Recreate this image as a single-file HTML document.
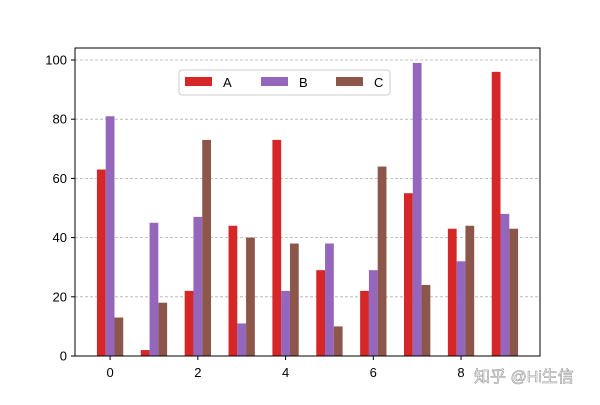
<!DOCTYPE html>
<html><head><meta charset="utf-8"><style>
body{margin:0;background:#fff;}
svg{font-family:"Liberation Sans","DejaVu Sans","Noto Sans CJK SC",sans-serif;}
</style></head><body>
<svg id="chart" width="600" height="400"></svg>
<script>
const categories=[0,1,2,3,4,5,6,7,8,9];
const seriesA=[63,2,22,44,73,29,22,55,43,96];
const seriesB=[81,45,47,11,22,38,29,99,32,48];
const seriesC=[13,18,73,40,38,10,64,24,44,43];
const yTicks=[0,20,40,60,80,100];
const xTicks=[0,2,4,6,8];
const seriesNames=['A','B','C'];
const colors=['#d62728','#9467bd','#8c564b'];
const L=75,R=540,T=48,B=356;
const xMin=-0.8,xMax=9.8,yMax=(B-60)/2.96*1;
function xs(v){return L+(v-xMin)/(xMax-xMin)*(R-L);}
function ys(v){return B-v*2.96;}
const svg=document.getElementById('chart');
const NS='http://www.w3.org/2000/svg';
function mk(t,a){const e=document.createElementNS(NS,t);for(const k in a)e.setAttribute(k,a[k]);svg.appendChild(e);return e;}
yTicks.forEach(v=>{
  if(v>0){const g=mk('line',{x1:L,x2:R,y1:ys(v),y2:ys(v),stroke:'#b0b0b0','stroke-dasharray':'3,2','stroke-width':0.8});
  
  }
  const t=mk('line',{x1:L-4,x2:L,y1:ys(v),y2:ys(v),stroke:'#000'});
  
  
  const l=mk('text',{x:L-8,y:ys(v)+4.5,'text-anchor':'end','font-size':13});
  l.textContent=v;
  
  
});
xTicks.forEach(v=>{
  const t=mk('line',{x1:xs(v),x2:xs(v),y1:B,y2:B+4,stroke:'#000'});
  
  
  const l=mk('text',{x:xs(v),y:B+21,'text-anchor':'middle','font-size':13});
  l.textContent=v;
  
  
});
const all=[seriesA,seriesB,seriesC];
const w=0.2;
all.forEach((s,si)=>{
  categories.forEach((c,i)=>{
    const x0=xs(c+(si-1)*w-w/2),x1=xs(c+(si-1)*w+w/2);
    const r=mk('rect',{x:x0,y:ys(s[i]),width:x1-x0,height:ys(0)-ys(s[i]),fill:colors[si]});
    
    
  });
});
const frame=mk('rect',{x:L,y:T,width:R-L,height:B-T,fill:'none',stroke:'#000','stroke-width':1});


const lg=mk('rect',{x:179,y:70,width:211,height:25,fill:'#fff',stroke:'#ccc',rx:3});


const lx=[185,261,336];
seriesNames.forEach((n,i)=>{
  const s=mk('rect',{x:lx[i],y:77,width:27,height:9,fill:colors[i]});
  
  
  const t=mk('text',{x:lx[i]+38,y:87,'font-size':13});
  t.textContent=n;
  
  
});
const wm=mk('text',{x:474,y:382,'font-size':16,fill:'#fff',stroke:'#999','stroke-width':0.6});
wm.textContent='知乎 @Hi生信';


</script>
</body></html>
